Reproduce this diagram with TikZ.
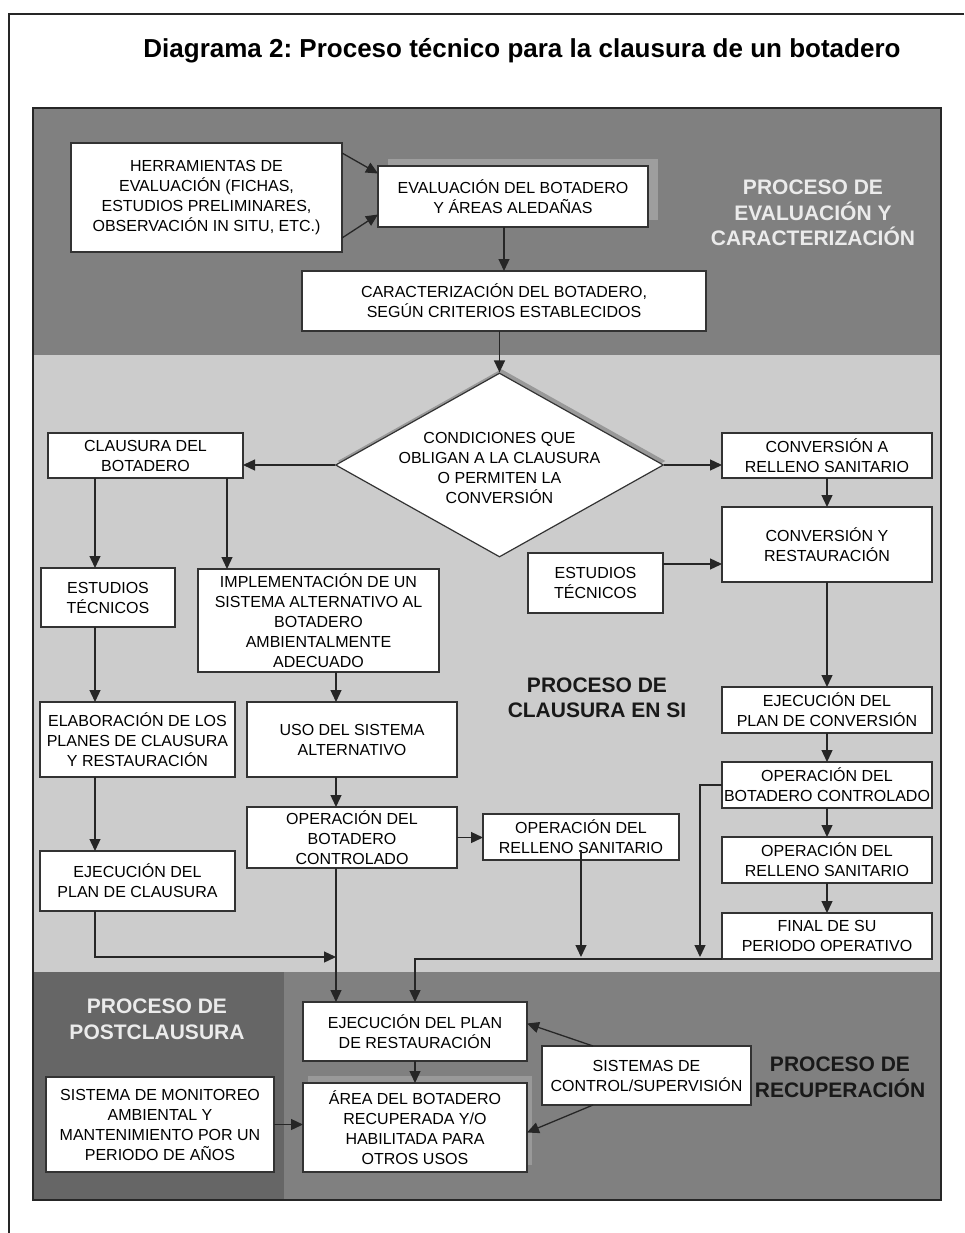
\documentclass[tikz,border=0pt]{standalone}
\usepackage{fontspec}
\setmainfont{Liberation Sans}
\usetikzlibrary{positioning,arrows.meta,shadows,shapes.geometric}
\frenchspacing

\begin{document}
\begin{tikzpicture}[
    x=1pt, y=-1pt,
    every node/.style={font=\fontsize{16}{20}\selectfont},
    box/.style ={draw=black!80, fill=white, line width=1.2pt, align=center,
                 inner sep=2pt, outer sep=0pt},
    rbox/.style={box, minimum width=210pt, minimum height=46pt},
    decision/.style={diamond, draw=black!80, fill=white, line width=1.2pt,
                 align=center, inner xsep=-10pt, inner ysep=-8pt,
                 shape aspect=1.8, minimum width=328pt, minimum height=184pt,
                 general shadow={fill=black!40, shadow xshift=2pt,
                                 shadow yshift=4pt}},
    zone/.style ={font=\fontsize{21}{25.5}\selectfont\bfseries, align=center},
    lightzone/.style={zone, text=black!8},
    darkzone/.style ={zone, text=black!90},
    arr/.style ={-{Triangle[length=12pt,width=11pt]}, line width=1.3pt,
                 draw=black!85}
  ]
  \useasboundingbox (0,0) rectangle (964,1233);
  % page frame
  \draw[line width=1.8pt, black!85] (964,14) -- (9,14) -- (9,1233);
  % bands
  \fill[black!50] (33,108) rectangle (941,355);
  \fill[black!20] (33,355) rectangle (941,972);
  \fill[black!60] (33,972) rectangle (284,1200);
  \fill[black!50] (284,972) rectangle (941,1200);
  \draw[line width=1.5pt, black!85] (33,108) rectangle (941,1200);

  \node[font=\fontsize{26}{30}\selectfont\bfseries] (titulo) at (522,51)
       {Diagrama 2: Proceso técnico para la clausura de un botadero};

  % evaluacion y caracterizacion
  \node[box, minimum width=271pt, minimum height=109pt] (herr) at (206.5,197.5)
       {HERRAMIENTAS DE\\EVALUACIÓN (FICHAS,\\ESTUDIOS PRELIMINARES,\\OBSERVACIÓN IN SITU, ETC.)};
  \node[box, minimum width=270pt, minimum height=61pt,
        general shadow={fill=black!38, shadow xshift=10pt, shadow yshift=7pt}]
       (eval) at (513,196.5) {EVALUACIÓN DEL BOTADERO\\Y ÁREAS ALEDAÑAS};
  \node[box, minimum width=404pt, minimum height=60pt] (carac) at (504,301)
       {CARACTERIZACIÓN DEL BOTADERO,\\SEGÚN CRITERIOS ESTABLECIDOS};
  \node[lightzone] (tEval) at (813,213) {PROCESO DE\\EVALUACIÓN Y\\CARACTERIZACIÓN};

  % clausura en si
  \node[decision] (cond) at (499.5,465)
       {\rule{0pt}{18pt}CONDICIONES QUE\\OBLIGAN A LA CLAUSURA\\O PERMITEN LA\\CONVERSIÓN};
  \node[box, minimum width=195pt, minimum height=45pt] (claus) at (145.5,455.5)
       {CLAUSURA DEL\\BOTADERO};
  \node[box, minimum width=134pt, minimum height=59pt] (est1) at (108,597.5)
       {ESTUDIOS\\TÉCNICOS};
  \node[box, minimum width=241pt, minimum height=103pt] (impl) at (318.5,620.5)
       {IMPLEMENTACIÓN DE UN\\SISTEMA ALTERNATIVO AL\\BOTADERO\\AMBIENTALMENTE\\ADECUADO};
  \node[box, minimum width=195pt, minimum height=75pt] (elab) at (137.5,739.5)
       {ELABORACIÓN DE LOS\\PLANES DE CLAUSURA\\Y RESTAURACIÓN};
  \node[box, minimum width=210pt, minimum height=75pt] (uso) at (352,739.5)
       {USO DEL SISTEMA\\ALTERNATIVO};
  \node[box, minimum width=195pt, minimum height=60pt] (ejec1) at (137.5,881)
       {EJECUCIÓN DEL\\PLAN DE CLAUSURA};
  \node[box, minimum width=210pt, minimum height=61pt] (opb1) at (352,837.5)
       {OPERACIÓN DEL\\BOTADERO\\CONTROLADO};
  \node[box, minimum width=196pt, minimum height=46pt] (opr1) at (581,837)
       {OPERACIÓN DEL\\RELLENO SANITARIO};
  \node[box, minimum width=135pt, minimum height=60pt] (est2) at (595.5,583)
       {ESTUDIOS\\TÉCNICOS};
  \node[rbox, minimum height=45pt] (conv1) at (827,455.5)
       {CONVERSIÓN A\\RELLENO SANITARIO};
  \node[rbox, minimum height=75pt, below=29pt of conv1] (conv2)
       {CONVERSIÓN Y\\RESTAURACIÓN};
  \node[rbox, below=105pt of conv2] (ejec2) {EJECUCIÓN DEL\\PLAN DE CONVERSIÓN};
  \node[rbox, below=29pt of ejec2]  (opb2)  {OPERACIÓN DEL\\BOTADERO CONTROLADO};
  \node[rbox, below=29pt of opb2]   (opr2)  {OPERACIÓN DEL\\RELLENO SANITARIO};
  \node[rbox, below=30pt of opr2]   (fin)   {FINAL DE SU\\PERIODO OPERATIVO};
  \node[darkzone] (tClaus) at (597,698) {PROCESO DE\\CLAUSURA EN SI};

  % postclausura y recuperacion
  \node[box, minimum width=224pt, minimum height=59pt] (ejecR) at (415,1031.5)
       {EJECUCIÓN DEL PLAN\\DE RESTAURACIÓN};
  \node[box, minimum width=224pt, minimum height=89pt,
        general shadow={fill=black!40, shadow xshift=5pt, shadow yshift=7pt}]
       (area) at (415,1127.5)
       {ÁREA DEL BOTADERO\\RECUPERADA Y/O\\HABILITADA PARA\\OTROS USOS};
  \node[box, minimum width=209pt, minimum height=59pt] (sist) at (646.5,1075.5)
       {SISTEMAS DE\\CONTROL/SUPERVISIÓN};
  \node[box, minimum width=228pt, minimum height=95pt] (mon) at (160,1124.5)
       {SISTEMA DE MONITOREO\\AMBIENTAL Y\\MANTENIMIENTO POR UN\\PERIODO DE AÑOS};
  \node[lightzone] (tPost) at (157,1019.5) {PROCESO DE\\POSTCLAUSURA};
  \node[darkzone] (tRecup) at (840,1077.5) {PROCESO DE\\RECUPERACIÓN};

  \coordinate (colL) at (95,0);
  \coordinate (colM) at (227,0);
  \coordinate (colC) at (336,0);
  \coordinate (busL) at (336,957);
  \coordinate (busR) at (700,957);

  \draw[arr] ([yshift=-10pt]herr.north east) -- ([yshift=23pt]eval.west);
  \draw[arr] ([yshift=14pt]herr.south east)  -- ([yshift=-18pt]eval.west);
  \draw[arr] (eval.south -| carac.north) -- (carac.north);
  \draw[arr] (carac.south -| cond.north) -- (cond.north);
  \draw[arr] (cond.west) -- (cond.west -| claus.east);
  \draw[arr] (cond.east) -- (cond.east -| conv1.west);

  \draw[arr] (claus.south -| colL) -- (est1.north -| colL);
  \draw[arr] (est1.south -| colL)  -- (elab.north -| colL);
  \draw[arr] (elab.south -| colL)  -- (ejec1.north -| colL);
  \draw[arr] (ejec1.south -| colL) |- (busL);
  \draw[arr] (claus.south -| colM) -- (impl.north -| colM);
  \draw[arr] (impl.south -| colC)  -- (uso.north -| colC);
  \draw[arr] (uso.south -| colC)   -- (opb1.north -| colC);
  \draw[arr] (opb1.south -| colC)  -- (ejecR.north -| colC);
  \draw[arr] (opb1.east) -- (opb1.east -| opr1.west);
  \draw[arr] ([yshift=10pt]opr1.south) -- (opr1.south |- busR);

  \draw[arr] (conv1.south) -- (conv2.north);
  \draw[arr] ([yshift=19pt]est2.east) -- ([yshift=19pt]est2.east -| conv2.west);
  \draw[arr] (conv2.south) -- (ejec2.north);
  \draw[arr] (ejec2.south) -- (opb2.north);
  \draw[arr] (opb2.south)  -- (opr2.north);
  \draw[arr] (opr2.south)  -- (fin.north);
  \draw[arr] (opb2.west) -| (busR);
  \draw[arr] (fin.south west) -| (ejecR.north);

  \draw[arr] (ejecR.south) -- (area.north);
  \draw[arr] ([xshift=51pt]sist.north west) -- ([yshift=8pt]ejecR.east);
  \draw[arr] ([xshift=51pt]sist.south west) -- ([yshift=-5pt]area.east);
  \draw[arr] (mon.east) -- (mon.east -| area.west);
\end{tikzpicture}
\end{document}
